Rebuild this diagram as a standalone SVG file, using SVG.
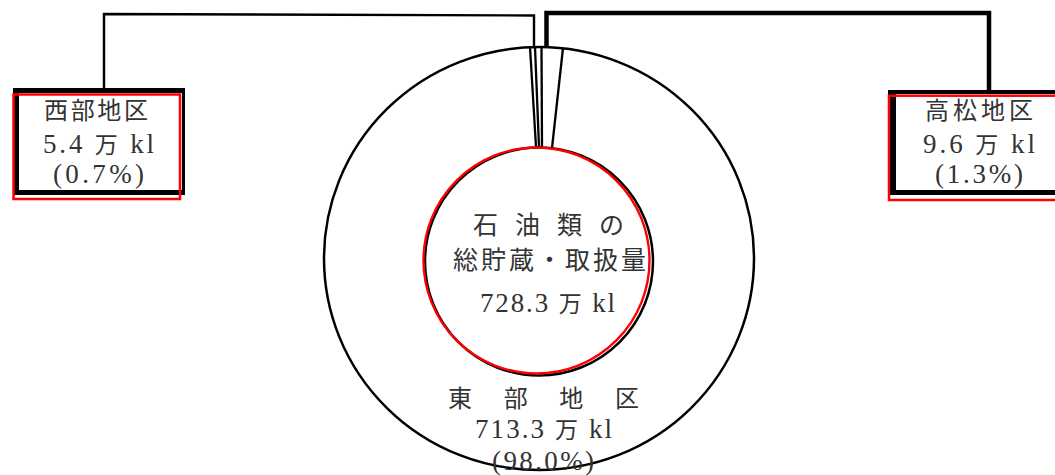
<svg xmlns="http://www.w3.org/2000/svg" width="1055" height="475" viewBox="0 0 1055 475">
<style>
.t{font-family:"Liberation Serif","Noto Sans CJK JP",serif;fill:#333;font-size:24px}
.c{font-size:25px}
.n{font-size:27px}
.k{font-size:23px}
.blk{fill:none;stroke:#000}
.red{fill:none;stroke:#ff0000}
</style>
<rect x="0" y="0" width="1055" height="475" fill="#fff"/>
<g id="connectors">
<polyline class="blk" stroke-width="2.4" points="104,89 104,14 534,15.5 534,48"/>
<polyline class="blk" stroke-width="4.5" points="546.5,50 546.5,13 989,13 989,91"/>
</g>
<g id="east">
<ellipse cx="539" cy="258.5" rx="215" ry="211.5" fill="#fff" stroke="#000" stroke-width="2.5"/>
<g class="blk" stroke-width="2.3">
<line x1="530" y1="47" x2="536" y2="147"/>
<line x1="535" y1="47" x2="539" y2="147"/>
<line x1="541.5" y1="47" x2="542" y2="147"/>
<line x1="563" y1="48" x2="552" y2="148"/>
</g>
<text class="t" x="448" y="407" textLength="191">東 部 地 区</text>
<text class="t n" x="475" y="438" textLength="137">713.3 <tspan class="k">万</tspan> kl</text>
<text class="t n" x="492" y="470" textLength="102">(98.0%)</text>
</g>
<g id="total">
<circle cx="539" cy="261.5" r="114" fill="#fff" stroke="#000" stroke-width="2.5"/>
<circle class="red" cx="536.5" cy="260.5" r="113" stroke-width="2.4"/>
<text class="t c" x="473" y="234" textLength="151">石 油 類 の</text>
<text class="t c" x="453" y="269" textLength="193">総貯蔵・取扱量</text>
<text class="t n" x="480" y="312" textLength="135">728.3 <tspan class="k">万</tspan> kl</text>
</g>
<g id="west">
<path d="M13,88 H185 V195 H13 Z M19,93 V190 H182 V93 Z" fill="#000" fill-rule="evenodd"/>
<rect x="19" y="93" width="163" height="97" fill="#fff"/>
<rect class="red" x="13.5" y="94.5" width="166.5" height="104.5" stroke-width="2.5"/>
<text class="t" x="44" y="119" textLength="104">西部地区</text>
<text class="t n" x="43" y="153" textLength="111">5.4 <tspan class="k">万</tspan> kl</text>
<text class="t n" x="53" y="183" textLength="91">(0.7%)</text>
</g>
<g id="takamatsu">
<path d="M888,90 H1060 V195 H888 Z M896,94 V190 H1060 V94 Z" fill="#000" fill-rule="evenodd"/>
<rect x="896" y="94" width="164" height="96" fill="#fff"/>
<rect class="red" x="889" y="95.7" width="200" height="104.3" stroke-width="2.5"/>
<text class="t" x="925" y="119" textLength="108">高松地区</text>
<text class="t n" x="923" y="153" textLength="112">9.6 <tspan class="k">万</tspan> kl</text>
<text class="t n" x="935" y="183" textLength="88">(1.3%)</text>
</g>
</svg>
